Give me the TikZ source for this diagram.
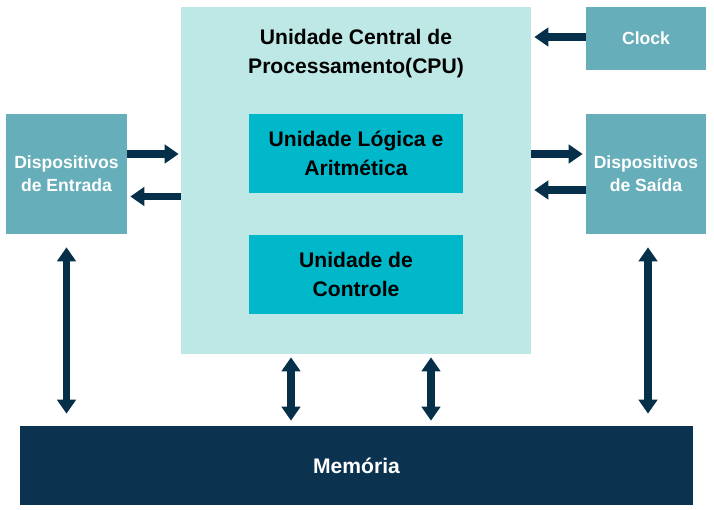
\documentclass[tikz,border=0pt]{standalone}
\usepackage{fontspec}
\setmainfont{Liberation Sans}
\usetikzlibrary{arrows.meta}

\definecolor{cpuback}{HTML}{BDE8E6}
\definecolor{devback}{HTML}{66AEB9}
\definecolor{unitback}{HTML}{00B8CA}
\definecolor{memback}{HTML}{0B3350}
\definecolor{arrowcol}{HTML}{06304A}

\tikzset{
	devbox/.style={fill=devback, text=white, font=\bfseries\fontsize{10}{13}\selectfont, align=center, inner sep=0pt},
	unitbox/.style={fill=unitback, text=black, font=\bfseries\fontsize{12}{16.4}\selectfont, align=center, inner sep=0pt, minimum width=4.28cm, minimum height=1.58cm},
	bus/.style={draw=arrowcol, line width=4.5pt, -{Triangle[width=10.5pt,length=8pt]}},
	dbus/.style={draw=arrowcol, line width=4.5pt, {Triangle[width=10.5pt,length=8pt]}-{Triangle[width=10.5pt,length=8pt]}}
}

\begin{document}
\begin{tikzpicture}
		\useasboundingbox (0,0) rectangle (14.28,10.18);

		% CPU and its units
		\node[fill=cpuback, minimum width=7cm, minimum height=6.94cm] (cpu) at (7.12,6.57) {};
		\node[font=\bfseries\fontsize{12}{16.4}\selectfont, align=center] (cputitle) at (7.12,9.11) {Unidade Central de\\Processamento(CPU)};
		\node[unitbox] (ula) at (7.12,7.11) {Unidade Lógica e\\Aritmética};
		\node[unitbox] (uc) at (7.12,4.69) {Unidade de\\Controle};

		% devices
		\node[devbox, minimum width=2.4cm, minimum height=1.26cm] (clock) at (12.92,9.41) {Clock};
		\node[devbox, minimum width=2.42cm, minimum height=2.4cm] (ent) at (1.33,6.70) {Dispositivos\\de Entrada};
		\node[devbox, minimum width=2.4cm, minimum height=2.4cm] (sai) at (12.92,6.70) {Dispositivos\\de Saída};

		% memory
		\node[fill=memback, text=white, font=\bfseries\fontsize{12}{16}\selectfont, minimum width=13.46cm, minimum height=1.58cm] (mem) at (7.13,0.87) {Memória};

		% connections
		\draw[bus, shorten >=0.06cm] ([yshift=0.03cm]clock.west) -- ([yshift=0.03cm]clock.west -| cpu.east);
		\draw[bus, shorten >=0.04cm] ([yshift=0.4cm]ent.east) -- ([yshift=0.4cm]ent.east -| cpu.west);
		\draw[bus, shorten >=0.06cm] ([yshift=-0.32cm]cpu.west) -- ([yshift=-0.32cm]cpu.west -| ent.east);
		\draw[bus, shorten >=0.06cm] ([yshift=0.4cm]cpu.east |- sai.east) -- ([yshift=0.4cm]sai.west);
		\draw[bus, shorten >=0.06cm] ([yshift=-0.32cm]sai.west) -- ([yshift=-0.32cm]sai.west -| cpu.east);

		\draw[dbus, shorten <=0.26cm, shorten >=0.24cm] (ent.south) -- (ent.south |- mem.north);
		\draw[dbus, shorten <=0.26cm, shorten >=0.24cm] ([xshift=0.04cm]sai.south) -- ([xshift=0.04cm]sai.south |- mem.north);
		\draw[dbus, shorten <=0.06cm, shorten >=0.1cm] ([xshift=-1.3cm]cpu.south) -- ([xshift=-1.3cm]cpu.south |- mem.north);
		\draw[dbus, shorten <=0.06cm, shorten >=0.1cm] ([xshift=1.5cm]cpu.south) -- ([xshift=1.5cm]cpu.south |- mem.north);

	\end{tikzpicture}
\end{document}
